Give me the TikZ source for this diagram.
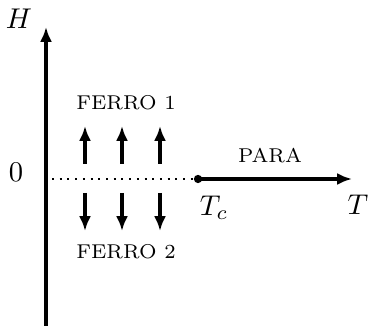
\documentclass[tikz,border=0pt]{standalone}
\usetikzlibrary{arrows.meta}
\begin{document}
\begin{tikzpicture}[x=0.35pt,y=-0.35pt,
  axis/.style={line width=1.1pt,-{Latex[length=5.2pt,width=4.2pt]}},
  spin/.style={line width=1.1pt,-{Latex[length=5.2pt,width=4.2pt]}},
  lbl/.style={font=\scriptsize, inner sep=0pt}]
\useasboundingbox (0,0) rectangle (369,328);
% axes
\coordinate (vb) at (46,326);
\coordinate (vt) at (46,27);
\draw[axis] (vb) -- (vt);
\node[inner sep=0pt] (H) at (19,19) {$H$};
\node[inner sep=0pt] (zero) at (16,172) {$0$};
% horizontal
\coordinate (hs) at (52,179);
\node[circle,fill,inner sep=0pt,minimum size=2.9pt] (Tc) at (198,179) {};
\coordinate (he) at (352,179);
\draw[line width=0.7pt,dotted] (hs) -- (Tc);
\draw[axis] (Tc.center) -- (he);
\node[inner sep=0pt] (Tclbl) at (214,208) {$T_c$};
\node[inner sep=0pt] (Tlbl) at (358,205) {$T$};
\node[lbl] (para) at (270,156) {PARA};
\node[lbl] (f1) at (126,103) {FERRO 1};
\node[lbl] (f2) at (126,252) {FERRO 2};
% spins
\foreach \x/\n in {85/a,122/b,160/c}{
  \coordinate (u\n0) at (\x,164);
  \coordinate (u\n1) at (\x,126);
  \coordinate (d\n0) at (\x,193);
  \coordinate (d\n1) at (\x,231);
  \draw[spin] (u\n0) -- (u\n1);
  \draw[spin] (d\n0) -- (d\n1);
}
\end{tikzpicture}
\end{document}
